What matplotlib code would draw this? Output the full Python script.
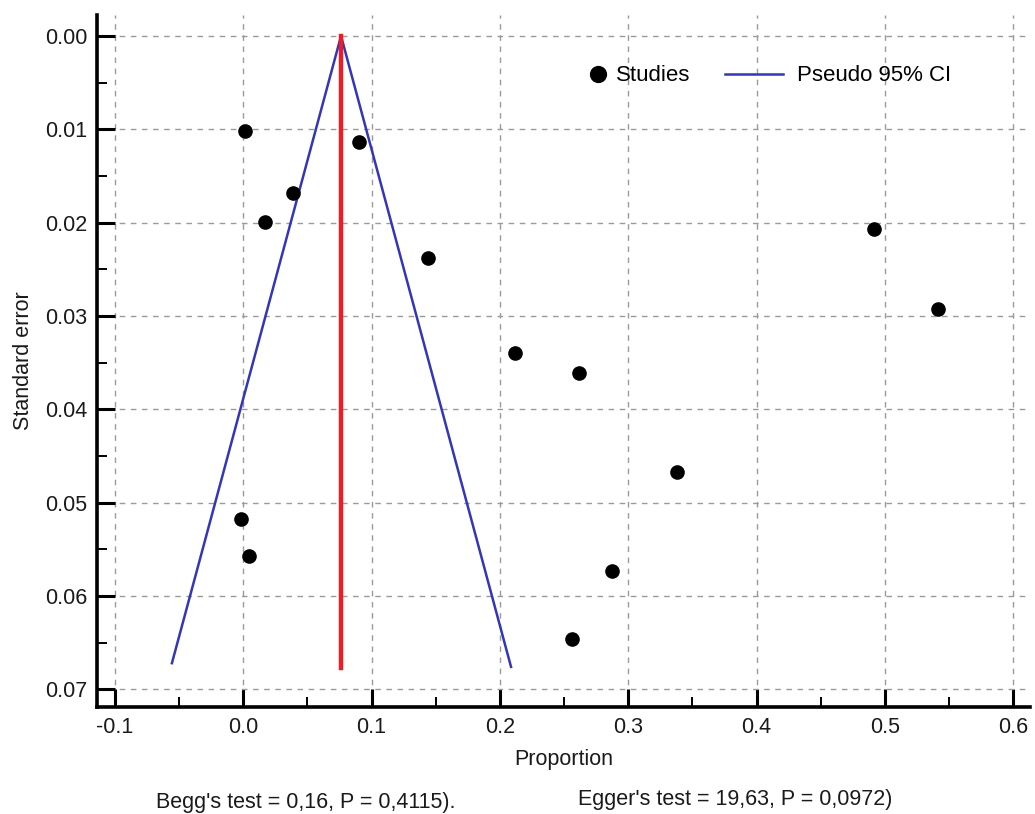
import matplotlib.pyplot as plt
from matplotlib.ticker import MultipleLocator

plt.rcParams["font.family"] = ["Liberation Sans", "DejaVu Sans"]

# study estimates
proportion = [0.0013, 0.090, 0.0387, 0.0169, 0.144, 0.4916, 0.5415,
              0.2118, 0.2617, 0.338, -0.0018, 0.0044, 0.2874, 0.256]
std_error = [0.0102, 0.0114, 0.0168, 0.0199, 0.0238, 0.0207, 0.0292,
             0.0340, 0.0361, 0.0467, 0.0518, 0.0557, 0.0573, 0.0646]

# pseudo 95% CI funnel and pooled estimate
ci_x = [-0.0556, 0.0762, 0.2087]
ci_y = [0.0672, 0.0, 0.0676]
pooled_x = [0.0762, 0.0762]
pooled_y = [0.0, 0.0677]

begg_text = "Begg's test = 0,16, P = 0,4115)."
egger_text = "Egger's test = 19,63, P = 0,0972)"

fig = plt.figure(figsize=(10.35, 8.14), dpi=100)
ax = fig.add_axes([0.0937, 0.1314, 0.9013, 0.8502])

ci_line, = ax.plot(ci_x, ci_y, color="#3535b8", linewidth=1.8, zorder=3)
ax.plot(pooled_x, pooled_y, color="#ee1c25", linewidth=3.2, zorder=3)
studies, = ax.plot(proportion, std_error, linestyle="none", marker="o", markersize=9.5,
                   color="black", zorder=4)

ax.set_xlim(-0.114, 0.613)
ax.set_ylim(0.0719, -0.00225)

ax.set_xticks([-0.1, 0.0, 0.1, 0.2, 0.3, 0.4, 0.5, 0.6])
ax.set_xticklabels(["-0.1", "0.0", "0.1", "0.2", "0.3", "0.4", "0.5", "0.6"])
ax.set_yticks([0.0, 0.01, 0.02, 0.03, 0.04, 0.05, 0.06, 0.07])
ax.set_yticklabels(["0.00", "0.01", "0.02", "0.03", "0.04", "0.05", "0.06", "0.07"])
ax.xaxis.set_minor_locator(MultipleLocator(0.05))
ax.yaxis.set_minor_locator(MultipleLocator(0.005))

ax.tick_params(which="major", direction="in", length=13, width=2.2, labelsize=15.5, pad=7,
               labelcolor="#1a1a1a")
ax.tick_params(which="minor", direction="in", length=7, width=1.4)

ax.grid(True, which="major", color="#9a9a9a", linestyle=(0, (4, 4)), linewidth=1.0)
ax.set_axisbelow(True)

for side in ("top", "right"):
    ax.spines[side].set_visible(False)
for side in ("left", "bottom"):
    ax.spines[side].set_linewidth(2.6)

ax.set_xlabel("Proportion", fontsize=15.5, labelpad=8, color="#1a1a1a")
ax.set_ylabel("Standard error", fontsize=15.5, labelpad=8, color="#1a1a1a")

leg1 = ax.legend([studies], ["Studies"], loc="center left", bbox_to_anchor=(0.5038, 0.912),
                 frameon=False, fontsize=16, handlelength=1.0, handletextpad=0.3,
                 markerscale=1.2)
ax.add_artist(leg1)
ax.legend([ci_line], ["Pseudo 95% CI"], loc="center left", bbox_to_anchor=(0.6516, 0.912),
          frameon=False, fontsize=16, handlelength=2.6, handletextpad=0.63)

fig.text(0.295, 0.0075, begg_text, ha="center", va="baseline", fontsize=15.5, color="#1a1a1a")
fig.text(0.71, 0.011, egger_text, ha="center", va="baseline", fontsize=15.5, color="#1a1a1a")

fig.savefig("out.png", dpi=100, facecolor="white")
